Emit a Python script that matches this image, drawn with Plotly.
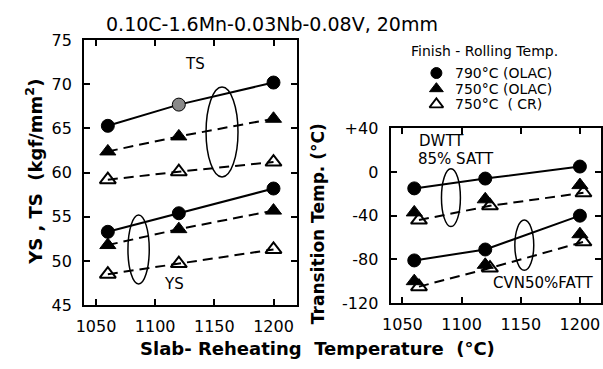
import plotly.graph_objects as go

# ---------------- data ----------------
temps = [1060, 1120, 1200]
temps_cr_right = [1064, 1124, 1203]

ts_790 = [65.3, 67.7, 70.2]
ts_750 = [62.4, 64.1, 66.1]
ts_cr = [59.2, 60.1, 61.2]
ys_790 = [53.3, 55.4, 58.2]
ys_750 = [51.8, 53.6, 55.7]
ys_cr = [48.5, 49.7, 51.3]

dwtt_790 = [-15, -6, 5]
dwtt_750 = [-37, -25, -12]
dwtt_cr = [-44, -31, -19]
cvn_790 = [-81, -71, -40]
cvn_750 = [-100, -85, -57]
cvn_cr = [-105, -88, -64]

left_xticks = [1050, 1100, 1150, 1200]
left_yticks = [45, 50, 55, 60, 65, 70, 75]
right_yticks = [-120, -80, -40, 0, 40]
right_yticklabels = ["-120", "-80", "-40", "0", "+40"]

legend_title = "Finish - Rolling Temp."
legend_names = ["790°C (OLAC)", "750°C (OLAC)", "750°C  ( CR)"]
legend_symbols = ["circle", "triangle-up", "triangle-up-open"]

FONT = "DejaVu Sans"
BLACK = "black"
DASH = "10px,6px"

fig = go.Figure()


def add_series(x, y, sym, dash, xa, ya, mode="lines+markers", colors=None):
    open_sym = sym.endswith("open")
    fig.add_trace(go.Scatter(
        x=x, y=y, mode=mode, xaxis=xa, yaxis=ya, showlegend=False,
        line=dict(color=BLACK, width=2, dash=dash),
        marker=dict(symbol=sym, size=13 if sym.startswith("circle") else 14,
                    color=colors if colors is not None else BLACK,
                    line=dict(color=BLACK, width=2 if open_sym else 1)),
        cliponaxis=False,
    ))


# left panel
add_series(temps, ts_790, "circle", "solid", "x", "y", colors=[BLACK, "#8a8a8a", BLACK])
add_series(temps, ts_750, "triangle-up", DASH, "x", "y")
add_series(temps, ts_cr, "triangle-up-open", DASH, "x", "y")
add_series(temps, ys_790, "circle", "solid", "x", "y")
add_series(temps, ys_750, "triangle-up", DASH, "x", "y")
add_series(temps, ys_cr, "triangle-up-open", DASH, "x", "y")

# right panel
add_series(temps, dwtt_790, "circle", "solid", "x2", "y2")
add_series(temps_cr_right, dwtt_cr, "triangle-up-open", DASH, "x2", "y2")
add_series(temps, dwtt_750, "triangle-up", DASH, "x2", "y2", mode="markers")
add_series(temps, cvn_790, "circle", "solid", "x2", "y2")
add_series(temps_cr_right, cvn_cr, "triangle-up-open", DASH, "x2", "y2")
add_series(temps, cvn_750, "triangle-up", DASH, "x2", "y2", mode="markers")

# legend key symbols on a hidden helper axis (one row per legend entry)
for i, sym in enumerate(legend_symbols):
    open_sym = sym.endswith("open")
    fig.add_trace(go.Scatter(
        x=[0], y=[i], mode="markers", xaxis="x3", yaxis="y3", showlegend=False, hoverinfo="skip",
        marker=dict(symbol=sym, size=11 if sym == "circle" else 12, color=BLACK,
                    line=dict(color=BLACK, width=1.8 if open_sym else 1)),
        cliponaxis=False,
    ))

axis_common = dict(
    showline=True, linecolor=BLACK, linewidth=2, mirror="ticks",
    ticks="inside", ticklen=6, tickwidth=1.5, tickcolor=BLACK,
    showgrid=False, zeroline=False,
    tickfont=dict(family=FONT, size=16, color=BLACK),
)
hidden = dict(visible=False, showgrid=False, zeroline=False, fixedrange=True)

ROW0, ROWH = 67.5, 16.5
fig.update_layout(
    width=603, height=369,
    margin=dict(l=0, r=0, t=0, b=0),
    paper_bgcolor="white", plot_bgcolor="rgba(0,0,0,0)",
    font=dict(family=FONT, color=BLACK),
    showlegend=False,
    xaxis=dict(domain=[0.128, 0.486], range=[1040, 1220], tickvals=left_xticks,
               anchor="y", ticklabelstandoff=6, **axis_common),
    yaxis=dict(domain=[0.154, 0.911], range=[45, 75], tickvals=left_yticks,
               anchor="x", ticklabelstandoff=7, **axis_common),
    xaxis2=dict(domain=[0.643, 0.997], range=[1040, 1218], tickvals=left_xticks,
                anchor="y2", ticklabelstandoff=6, **axis_common),
    yaxis2=dict(domain=[0.160, 0.659], range=[-120, 40], tickvals=right_yticks,
                ticktext=right_yticklabels, anchor="x2", ticklabelstandoff=7, **axis_common),
    xaxis3=dict(domain=[0.70, 0.74], range=[-1, 1], anchor="y3", **hidden),
    yaxis3=dict(domain=[1 - (ROW0 + 2.5 * ROWH) / 369, 1 - (ROW0 - 0.5 * ROWH) / 369],
                range=[2.5, -0.5], anchor="x3", **hidden),
)

# loops (curved brackets)
loops = [
    ("x", "y", 1143, 1170, 59.5, 69.7),
    ("x", "y", 1077, 1095, 47.4, 55.2),
    ("x2", "y2", 1083, 1099, -50, 3),
    ("x2", "y2", 1145, 1161, -90, -44),
]
for xr, yr, x0, x1, y0, y1 in loops:
    fig.add_shape(type="circle", xref=xr, yref=yr, x0=x0, x1=x1, y0=y0, y1=y1,
                  line=dict(color=BLACK, width=1.5))

ann = [
    dict(text="TS", x=1134, y=72.3, xref="x", yref="y", font=dict(size=15)),
    dict(text="YS", x=1116, y=47.4, xref="x", yref="y", font=dict(size=15)),
    dict(text="DWTT", x=1063, y=28, xref="x2", yref="y2", xanchor="left", font=dict(size=15)),
    dict(text="85% SATT", x=1062, y=12, xref="x2", yref="y2", xanchor="left", font=dict(size=15)),
    dict(text="CVN50%FATT", x=1213, y=-102, xref="x2", yref="y2", xanchor="right", font=dict(size=15)),
    dict(text="0.10C-1.6Mn-0.03Nb-0.08V, 20mm", x=268 / 603, y=1 - 16 / 369, xref="paper", yref="paper",
         font=dict(size=19)),
    dict(text="<b>YS , TS  (kgf/mm<sup>2</sup>)</b>", x=27 / 603, y=1 - 172 / 369, xref="paper", yref="paper",
         textangle=-90, font=dict(size=18)),
    dict(text="<b>Transition Temp. (°C)</b>", x=315 / 603, y=1 - 226 / 369, xref="paper", yref="paper",
         textangle=-90, font=dict(size=17)),
    dict(text="<b>Slab- Reheating  Temperature  (°C)</b>", x=314 / 603, y=1 - 358 / 369, xref="paper",
         yref="paper", font=dict(size=18)),
    dict(text=legend_title, x=407 / 603, y=1 - 44 / 369, xref="paper", yref="paper",
         xanchor="left", font=dict(size=14)),
]
for i, name in enumerate(legend_names):
    ann.append(dict(text=name, x=452 / 603, y=i, xref="paper", yref="y3", xanchor="left",
                    font=dict(size=14)))

for a in ann:
    a.setdefault("xanchor", "center")
    a["showarrow"] = False
    a["yanchor"] = "middle"
    a["borderpad"] = 0
    a["font"] = dict(family=FONT, color=BLACK, **a["font"])
    fig.add_annotation(**a)

fig.write_html("out.html")
